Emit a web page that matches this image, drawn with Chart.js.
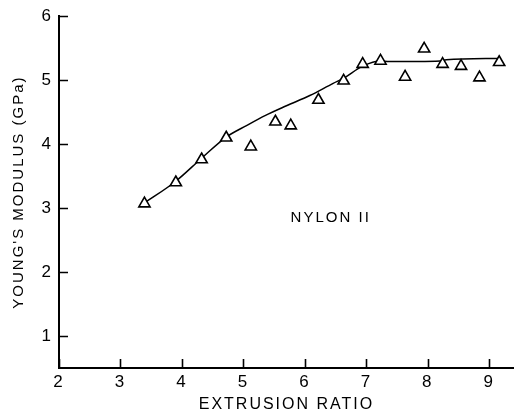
<!DOCTYPE html>
<html>
<head>
<meta charset="utf-8">
<script src="https://cdn.jsdelivr.net/npm/chart.js@4/dist/chart.umd.min.js"></script>
<style>
  html, body { margin: 0; padding: 0; background: #fff; }
  #wrap { width: 522px; height: 414px; }
</style>
</head>
<body>
<div id="wrap"><canvas id="chart" width="522" height="414"></canvas></div>
<script>
// measured points (triangles)
const extrusionRatio = [3.39, 3.90, 4.32, 4.72, 5.12, 5.52, 5.77, 6.22, 6.63, 6.94, 7.23, 7.63, 7.94, 8.24, 8.54, 8.84, 9.16];
const modulus = [3.07, 3.40, 3.76, 4.10, 3.96, 4.35, 4.29, 4.69, 4.99, 5.25, 5.30, 5.05, 5.49, 5.25, 5.22, 5.04, 5.28];

// hand-drawn trend curve
const fitX = [3.39, 3.90, 4.32, 4.72, 5.05, 5.36, 5.70, 6.08, 6.46, 6.63, 6.94, 7.23, 7.37, 8.20, 8.30, 9.16];
const fitY = [3.08, 3.42, 3.78, 4.11, 4.29, 4.45, 4.60, 4.76, 4.95, 5.03, 5.22, 5.30, 5.29, 5.30, 5.32, 5.34];

const xTicks = [2, 3, 4, 5, 6, 7, 8, 9];
const yTicks = [1, 2, 3, 4, 5, 6];
const label = { text: "NYLON II", x: 6.42, y: 2.85 };

const font = "'Liberation Sans', Arial, sans-serif";

const inwardTicks = {
  id: "inwardTicks",
  beforeDraw(chart) {
    chart.ctx.letterSpacing = "2px";
  },
  afterDraw(chart) {
    const { ctx, scales: { x, y } } = chart;
    ctx.save();
    ctx.strokeStyle = "#000";
    ctx.lineWidth = 1.6;
    ctx.beginPath();
    yTicks.forEach(v => {
      const py = Math.round(y.getPixelForValue(v)) + 0.5;
      ctx.moveTo(x.left, py);
      ctx.lineTo(x.left + 9, py);
    });
    xTicks.forEach(v => {
      const px = Math.round(x.getPixelForValue(v)) + 0.5;
      ctx.moveTo(px, y.bottom);
      ctx.lineTo(px, y.bottom - 9);
    });
    ctx.stroke();
    ctx.fillStyle = "#000";
    ctx.font = "15px " + font;
    ctx.textAlign = "center";
    ctx.textBaseline = "middle";
    ctx.fillText(label.text, x.getPixelForValue(label.x), y.getPixelForValue(label.y));
    ctx.restore();
  }
};

new Chart(document.getElementById("chart"), {
  type: "scatter",
  data: {
    datasets: [
      {
        label: "points",
        data: extrusionRatio.map((v, i) => ({ x: v, y: modulus[i] })),
        pointStyle: "triangle",
        pointRadius: 6.5,
        pointBorderWidth: 1.6,
        pointBorderColor: "#000",
        pointBackgroundColor: "#fff",
        order: 1
      },
      {
        label: "fit",
        type: "line",
        data: fitX.map((v, i) => ({ x: v, y: fitY[i] })),
        borderColor: "#000",
        borderWidth: 1.5,
        pointRadius: 0,
        cubicInterpolationMode: "monotone",
        fill: false,
        order: 2
      }
    ]
  },
  options: {
    responsive: false,
    animation: false,
    layout: { padding: { top: 16, right: 2, left: 0, bottom: 0 } },
    plugins: { legend: { display: false }, tooltip: { enabled: false } },
    scales: {
      x: {
        type: "linear",
        min: 2,
        max: 9.4,
        afterBuildTicks: s => { s.ticks = xTicks.map(v => ({ value: v })); },
        afterFit: s => { s.height = 46; },
        grid: { display: false, drawTicks: false },
        border: { display: true, color: "#000", width: 2 },
        ticks: { color: "#000", font: { family: font, size: 17 }, padding: 4, maxRotation: 0 },
        title: { display: true, text: "EXTRUSION RATIO", color: "#000", font: { family: font, size: 16 }, padding: { top: 5, bottom: 0 } }
      },
      y: {
        type: "linear",
        min: 0.5,
        max: 6,
        afterBuildTicks: s => { s.ticks = yTicks.map(v => ({ value: v })); },
        afterFit: s => { s.width = 59; },
        grid: { display: false, drawTicks: false },
        border: { display: true, color: "#000", width: 2 },
        ticks: { color: "#000", font: { family: font, size: 17 }, padding: 6 },
        title: { display: true, text: "YOUNG'S MODULUS (GPa)", color: "#000", font: { family: font, size: 15 }, padding: { top: 10, bottom: 4 } }
      }
    }
  },
  plugins: [inwardTicks]
});
</script>
</body>
</html>
